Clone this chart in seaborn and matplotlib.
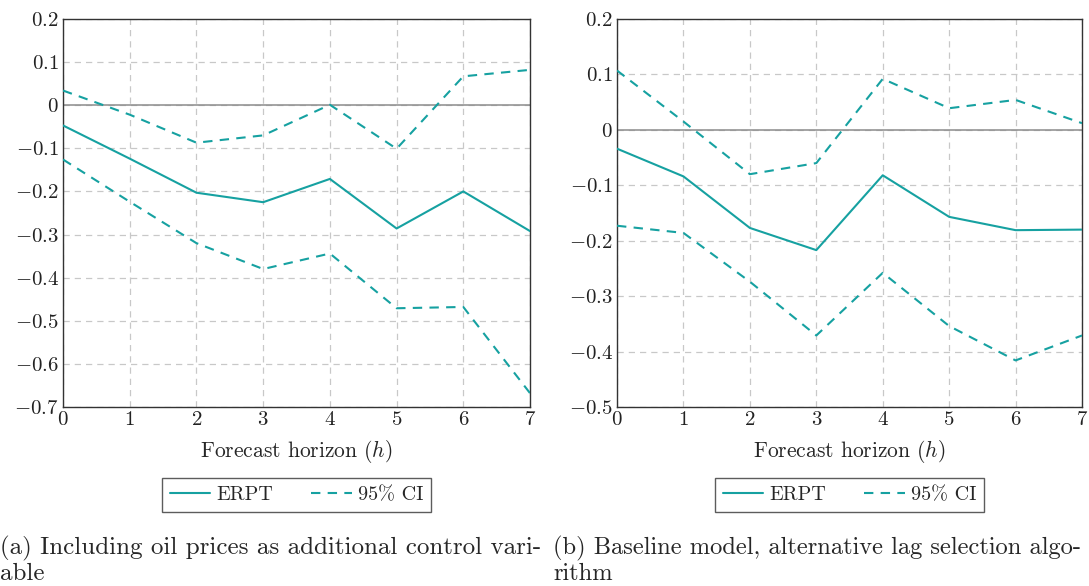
import matplotlib.pyplot as plt
import numpy as np
import pandas as pd
import seaborn as sns
from matplotlib.ticker import FuncFormatter, MultipleLocator

horizon = [0, 1, 2, 3, 4, 5, 6, 7]

# (a) oil prices as control
erpt_a = [-0.047, -0.124, -0.203, -0.225, -0.171, -0.286, -0.200, -0.292]
upper_a = [0.034, -0.022, -0.087, -0.070, 0.001, -0.101, 0.067, 0.082]
lower_a = [-0.126, -0.224, -0.320, -0.380, -0.344, -0.471, -0.468, -0.668]

# (b) baseline, alternative lag selection
erpt_b = [-0.034, -0.084, -0.177, -0.217, -0.082, -0.157, -0.181, -0.180]
upper_b = [0.107, 0.015, -0.080, -0.060, 0.092, 0.039, 0.054, 0.012]
lower_b = [-0.173, -0.186, -0.274, -0.371, -0.258, -0.354, -0.416, -0.371]

ylims = [(-0.7, 0.2), (-0.5, 0.2)]
captions = [
    "(a) Including oil prices as additional control vari-\nable",
    "(b) Baseline model, alternative lag selection algo-\nrithm",
]
caption_sizes = [18, 17.6]

TEAL = "#16a1a1"

sns.set_theme(style="white")
plt.rcParams.update({
    "font.family": "serif",
    "font.serif": ["cmr10", "DejaVu Serif"],
    "mathtext.fontset": "cm",
    "axes.formatter.use_mathtext": True,
    "axes.unicode_minus": True,
})


def tick_fmt(v, _):
    v = round(v, 2)
    if v == 0:
        return "$0$"
    return f"${v:g}$"


def long_frame(erpt, upper, lower):
    parts = []
    for name, vals in [("ERPT", erpt), ("upper", upper), ("lower", lower)]:
        parts.append(pd.DataFrame({"h": horizon, "value": vals, "series": name}))
    return pd.concat(parts, ignore_index=True)


panels = [
    long_frame(erpt_a, upper_a, lower_a),
    long_frame(erpt_b, upper_b, lower_b),
]

fig = plt.figure(figsize=(10.89, 5.86), dpi=100)
positions = [[0.0579, 0.3055, 0.4288, 0.6621], [0.5666, 0.3055, 0.4270, 0.6621]]
cap_x = [0.0, 0.5078]

for i, df in enumerate(panels):
    ax = fig.add_axes(positions[i])
    ax.axhline(0, color="#8c8c8c", linewidth=1.1, zorder=1)
    sns.lineplot(data=df[df.series == "ERPT"], x="h", y="value", color=TEAL,
                 linewidth=1.5, ax=ax, label="ERPT", zorder=3)
    sns.lineplot(data=df[df.series == "upper"], x="h", y="value", color=TEAL,
                 linewidth=1.5, linestyle=(0, (4.5, 3.5)), ax=ax, label="95% CI", zorder=3)
    sns.lineplot(data=df[df.series == "lower"], x="h", y="value", color=TEAL,
                 linewidth=1.5, linestyle=(0, (4.5, 3.5)), ax=ax, legend=False, zorder=3)

    ax.set_xlim(0, 7)
    ax.set_ylim(*ylims[i])
    ax.xaxis.set_major_locator(MultipleLocator(1))
    ax.yaxis.set_major_locator(MultipleLocator(0.1))
    ax.xaxis.set_major_formatter(FuncFormatter(tick_fmt))
    ax.yaxis.set_major_formatter(FuncFormatter(tick_fmt))
    ax.grid(True, color="#c8c8c8", linestyle=(0, (5, 4)), linewidth=0.9, zorder=0)
    ax.tick_params(axis="both", labelsize=15, length=0, pad=3, colors="#222222")
    for sp in ax.spines.values():
        sp.set_color("#333333")
        sp.set_linewidth(1.0)
    ax.set_xlabel("Forecast horizon ($h$)", fontsize=15.5)
    ax.xaxis.label.set_va("center")
    ax.xaxis.set_label_coords(0.5, -0.116)
    ax.set_ylabel("")

    centre_x = positions[i][0] + positions[i][2] / 2
    handles, labels = ax.get_legend_handles_labels()
    ax.legend(handles, ["ERPT", "95% CI"], loc="center",
              bbox_to_anchor=(centre_x, 1 - 495 / 586), bbox_transform=fig.transFigure,
              ncol=2, frameon=True, fancybox=False,
              edgecolor="#333333", fontsize=14.5, handlelength=2.0,
              columnspacing=1.9, handletextpad=0.3, borderpad=0.4)

    fig.text(cap_x[i], 1 - 580 / 586, captions[i], fontsize=caption_sizes[i], ha="left",
             va="baseline", linespacing=1.12)

fig.savefig("out.png", dpi=100)
